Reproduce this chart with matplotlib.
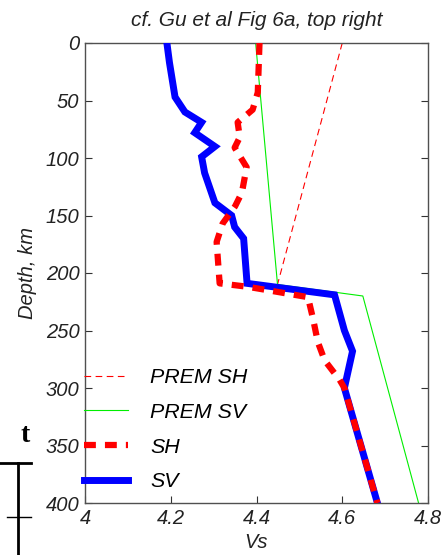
import numpy as np
import matplotlib.pyplot as plt
from matplotlib.lines import Line2D

plt.rcParams.update({
    "font.family": "sans-serif",
    "font.sans-serif": ["Liberation Sans", "DejaVu Sans"],
    "font.style": "italic",
    "font.size": 14.5,
    "axes.linewidth": 1.0,
})

# Data (depth in km, Vs in km/s)
sv_depth = [0, 17, 47, 60, 69, 78, 90, 99, 113, 139, 150, 160, 170, 209, 219, 250, 268, 300, 400]
sv_vs = [4.191, 4.197, 4.210, 4.233, 4.272, 4.256, 4.303, 4.272, 4.279, 4.303, 4.342,
         4.349, 4.370, 4.378, 4.582, 4.605, 4.624, 4.605, 4.682]

sh_depth = [0, 43, 58, 69, 82, 91, 108, 130, 142, 157, 173, 209, 212, 221, 240, 260, 276, 293, 300, 400]
sh_vs = [4.407, 4.403, 4.391, 4.356, 4.361, 4.349, 4.377, 4.366, 4.350, 4.321, 4.307,
         4.314, 4.380, 4.520, 4.532, 4.543, 4.559, 4.594, 4.605, 4.682]

prem_sv_depth = [0, 210, 220, 400]
prem_sv_vs = [4.398, 4.449, 4.648, 4.778]

prem_sh_depth = [0, 210]
prem_sh_vs = [4.600, 4.449]

xticks = [4, 4.2, 4.4, 4.6, 4.8]
xticklabels = ["4", "4.2", "4.4", "4.6", "4.8"]
yticks = [0, 50, 100, 150, 200, 250, 300, 350, 400]

W, H = 445, 555
fig = plt.figure(figsize=(W / 100, H / 100), dpi=100)
ax = fig.add_axes([85 / W, 1 - 503 / H, (428 - 85) / W, (503 - 43) / H])

frame = "#505050"
h_psh, = ax.plot(prem_sh_vs, prem_sh_depth, color="red", lw=0.8,
                 linestyle=(0, (6, 4)), zorder=2, label="PREM SH")
h_psv, = ax.plot(prem_sv_vs, prem_sv_depth, color="#00ee00", lw=0.8,
                 zorder=2, label="PREM SV")
h_sv, = ax.plot(sv_vs, sv_depth, color="blue", lw=5, zorder=3,
                solid_joinstyle="miter", label="SV")
h_sh, = ax.plot(sh_vs, sh_depth, color="red", lw=4.5,
                linestyle=(0, (1.9, 1.45)), zorder=4, label="SH")

ax.set_xlim(4, 4.8)
ax.set_ylim(400, 0)
ax.set_xticks(xticks)
ax.set_xticklabels(xticklabels)
ax.set_yticks(yticks)
ax.tick_params(direction="in", length=5, width=0.8, color="#333333",
               top=False, right=True, labelcolor="#222222", pad=4)
for s in ax.spines.values():
    s.set_color(frame)

ax.set_xlabel("Vs", labelpad=4, color="#222222")
ax.set_ylabel("Depth, km", labelpad=6, color="#222222")
ax.set_title("cf. Gu et al Fig 6a, top right", fontsize=15, pad=12, color="#222222")

leg = fig.legend(handles=[h_psh, h_psv, h_sh, h_sv],
                 loc="upper left", bbox_to_anchor=(84 / W, 1 - 368 / H),
                 frameon=False, borderpad=0, borderaxespad=0,
                 handlelength=2.06, handletextpad=1.03, labelspacing=0.74,
                 fontsize=15.4)

# bits of a neighbouring panel bleeding in at the lower left edge
fig.add_artist(Line2D([0, 31 / W], [1 - 463 / H] * 2, color="black", lw=2))
fig.add_artist(Line2D([18 / W] * 2, [1 - 463 / H, 0], color="black", lw=2))
fig.add_artist(Line2D([7 / W, 31 / W], [1 - 517 / H] * 2, color="black", lw=1))
fig.text(25 / W, 1 - 442 / H, "t", fontsize=20, fontweight="bold", style="normal",
         family="Liberation Serif", ha="center", va="baseline")

fig.savefig("out.png", dpi=100)
